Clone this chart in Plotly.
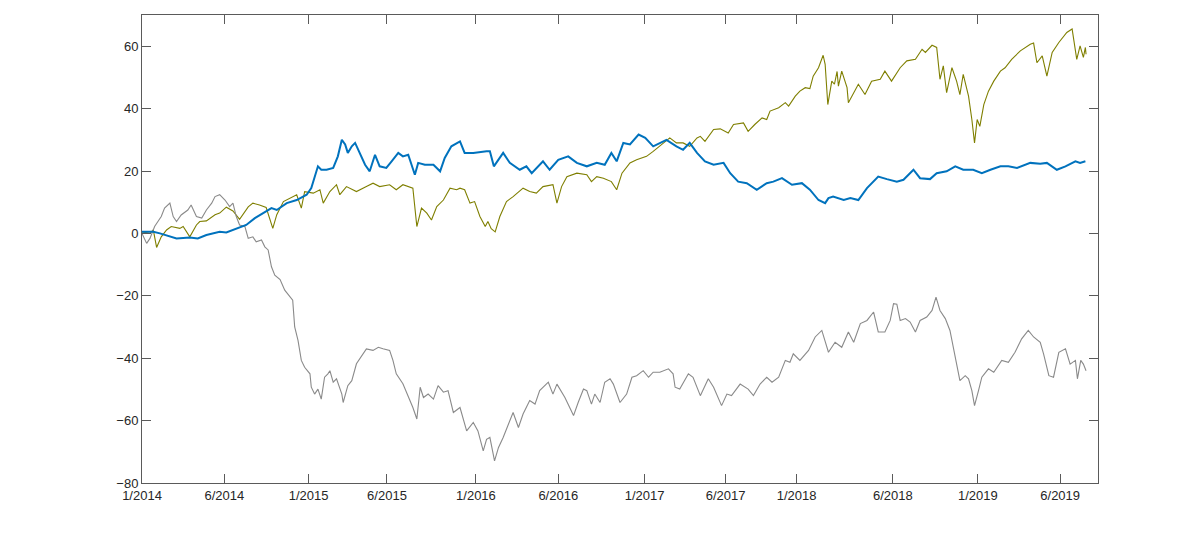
import plotly.graph_objects as go

# x = trading-day index since 1/2014
blue_x = [0, 17, 27, 42, 52, 72, 84, 97, 117, 127, 142, 157, 170, 182, 195, 203, 218, 233, 248, 255,
          260, 265, 270, 278, 288, 295, 301, 306, 310, 316, 321, 328, 336, 343, 351, 358, 368, 376, 386, 393,
          401, 411, 416, 426, 439, 449, 456, 466, 479, 486, 499, 519, 524, 530, 539, 544, 554, 569, 579, 587,
          604, 614, 627, 642, 655, 670, 685, 697, 707, 715, 725, 735, 748, 758, 770, 780, 790, 805, 815, 825,
          836, 848, 861, 876, 886, 898, 911, 926, 941, 951, 964, 979, 994, 1006, 1019, 1029, 1034, 1041, 1057, 1067,
          1079, 1092, 1109, 1122, 1137, 1147, 1162, 1172, 1187, 1197, 1212, 1225, 1237, 1252, 1265, 1278, 1293, 1305, 1318, 1338,
          1353, 1363, 1378, 1391, 1406, 1413, 1421]
blue_y = [0.5, 0.5, 0, -1, -1.6, -1.3, -1.6, -0.5, 0.5, 0.3, 1.6, 2.7, 4.9, 6.5, 8.1, 7.5, 9.7, 10.7, 12.4, 14.5,
          17.7, 21.5, 20.4, 20.4, 21, 24.7, 30, 28.5, 25.8, 27.9, 29, 25.8, 22, 19.9, 25.2, 21.5, 21, 23.1, 25.8, 24.7,
          25.2, 18.8, 22.6, 22, 22, 19.9, 24.2, 27.9, 29.5, 25.8, 25.8, 26.3, 26.3, 21.5, 24.2, 25.8, 22.6, 20.4, 21.5, 19.3,
          23.1, 20.4, 23.6, 24.7, 22.6, 21.5, 22.6, 22, 25.8, 23.1, 29, 28.5, 31.7, 30.6, 27.9, 29, 30, 27.9, 26.8, 29,
          25.8, 23.1, 22, 22.6, 19.3, 16.6, 16.1, 14, 16.1, 16.6, 17.7, 15.6, 16.1, 14, 10.7, 9.7, 11.3, 11.8, 10.7, 11.3,
          10.7, 14.5, 18.2, 17.4, 16.6, 17.2, 20.4, 17.7, 17.4, 19.3, 19.9, 21.5, 20.4, 20.4, 19.3, 20.4, 21.5, 21.5, 21, 22.6,
          22.3, 22.6, 20.4, 21.5, 23.1, 22.6, 23.1]

olive_x = [0, 12, 17, 22, 29, 37, 44, 57, 62, 72, 82, 87, 97, 110, 117, 127, 137, 147, 160, 167,
           177, 187, 197, 203, 213, 223, 233, 240, 245, 258, 268, 273, 283, 293, 298, 308, 323, 338, 348, 358,
           373, 383, 393, 408, 411, 414, 421, 429, 436, 444, 454, 464, 474, 479, 486, 494, 501, 509, 517, 521,
           526, 532, 539, 549, 559, 574, 584, 594, 604, 619, 625, 632, 640, 655, 670, 677, 685, 695, 707, 715,
           723, 735, 745, 760, 770, 780, 795, 805, 815, 825, 836, 841, 848, 861, 871, 883, 891, 906, 913, 923,
           934, 941, 946, 959, 969, 974, 984, 991, 999, 1006, 1011, 1019, 1026, 1029, 1033, 1039, 1043, 1047, 1049, 1054,
           1062, 1064, 1072, 1079, 1089, 1099, 1112, 1119, 1129,
           1142, 1152, 1165, 1175, 1180, 1190, 1197, 1202, 1207, 1212, 1220, 1227, 1232, 1237, 1245, 1250, 1254, 1258, 1262, 1268,
           1275, 1283, 1293, 1300, 1310, 1323, 1338, 1343, 1348, 1356, 1363, 1371, 1381, 1393, 1401, 1408, 1413, 1418, 1421, 1422]
olive_y = [0.5, 0, 1.1, -4.5, -1.1, 1.1, 2.2, 1.6, 2.2, -1.1, 2.7, 3.8, 4, 6, 6.5, 8.4, 7.2, 4.5, 8.5, 9.7,
           9.1, 8.3, 1.6, 6, 10.2, 11.3, 12.4, 8.1, 13.4, 12.9, 14, 9.7, 13.4, 15.6, 12.4, 15, 13.4, 15, 16.1, 15,
           15.6, 14, 15.6, 14.5, 8.6, 2.2, 8.1, 6.5, 4.3, 8.6, 10.7, 14.5, 14, 14.5, 14, 9.7, 10.2, 5.4, 2.2, 3.8,
           1.5, 0.5, 5.4, 10.2, 11.8, 14.5, 13.4, 12.9, 15, 15.6, 9.7, 15, 18.2, 19.3, 18.8, 16.6, 18.2, 17.7, 16.6, 14,
           19.3, 22.6, 23.6, 24.7, 26.3, 27.9, 30.6, 29, 29, 27.9, 30.6, 31.1, 29.5, 33.3, 33.5, 32.2, 34.9, 35.4, 32.7, 34.9,
           37, 36.5, 39.2, 40.3, 41.9, 40.8, 44, 45.6, 46.7, 46.4, 50.4, 53.1, 57.1, 54.2, 41.3, 48.8, 47.8, 51.9, 47.2, 52,
           46.7, 41.9, 45.1, 47.8, 44.5, 48.8, 49.4, 52, 48.8,
           53.1, 55.3, 55.8, 59, 58, 60.3, 59.6, 49.4, 53.7, 45.1, 53.1, 48.8, 44.5, 51, 44, 36.5, 29, 36.5, 34.3, 41.3,
           45.6, 48.8, 52, 53.1, 55.8, 58.5, 60.6, 61, 54.7, 56.9, 50.4, 58, 61.2, 64.4, 65.5, 55.8, 60.1, 56.4, 59.6, 57.4]

gray_x = [0, 7, 12, 19, 24, 29, 34, 42, 47, 52, 59, 69, 74, 82, 90, 97, 105, 110, 117, 125,
          132, 137, 142, 147, 155, 160, 167, 172, 180, 185, 190, 195, 200, 208, 215, 223, 227, 230, 235, 240,
          245, 253, 255, 260, 265, 270, 275, 280, 283, 288, 293, 301, 303, 310, 316, 323, 331, 338, 348, 356,
          363, 373, 378, 383, 393, 401, 408, 414, 419, 424, 431, 439, 446, 454, 461, 469, 479, 489, 499, 506,
          514, 519, 524, 531, 537, 544, 554, 559, 567, 574, 584, 592, 599, 612, 619, 625, 637, 650, 657, 665,
          670, 677, 682, 690, 697, 705, 710, 720, 730, 738, 745, 755, 763, 770, 780, 793, 800, 803, 810, 823,
          830, 841, 853, 861, 873, 881, 888, 901, 913, 921, 931, 941, 949, 959, 969, 976, 981, 991, 1004, 1014,
          1024, 1034, 1044, 1054, 1064, 1072, 1082, 1092, 1102, 1109, 1119, 1127, 1132, 1137, 1142, 1150, 1157, 1165, 1172, 1182,
          1190, 1196, 1202, 1210, 1217, 1222, 1227, 1232, 1240, 1245, 1250, 1254, 1260, 1265, 1275, 1283, 1295, 1305, 1315, 1325,
          1335, 1343, 1353, 1358, 1366, 1373, 1381, 1391, 1398, 1406, 1409, 1414, 1418, 1422]
gray_y = [0, -3.2, -1.6, 2.2, 3.8, 5.4, 8.1, 9.7, 5.4, 3.8, 5.9, 7.5, 9.1, 5.4, 4.9, 7.5, 9.7, 11.8, 12.4, 10.7,
          8.6, 9.7, 5.4, 2.7, 2.2, -1.6, -1.1, -2.7, -2.1, -4.3, -5.3, -10.7, -13.4, -14.8, -18.2, -20.6, -21.4, -30, -34.3, -40.7,
          -42.9, -45, -49.3, -51.5, -49.9, -53.1, -46.1, -45, -44, -47.7, -46.6, -51.5, -54.2, -48.8, -47.2, -41.8, -39.1, -37, -37.5, -36.5,
          -37, -37.5, -40.7, -45, -48.2, -52, -55.8, -59.5, -49.3, -52.6, -51.5, -53.1, -48.8, -50.9, -50.4, -57.4, -55.8, -63.3, -60.6, -63.3,
          -69.7, -66, -65.4, -72.9, -68.6, -65.4, -60.1, -57.4, -62.2, -57.9, -53.6, -54.7, -50.4, -47.7, -51.5, -48.3, -52.6, -58.4, -54.2, -49.9,
          -50.4, -54.7, -51.5, -54.2, -47.7, -46.6, -48.3, -54.2, -51.5, -46.1, -45.6, -44, -46.1, -44.5, -44.5, -43.4, -45, -49.3, -49.9, -45,
          -46.1, -52, -46.6, -49.3, -55.2, -51.5, -52, -48.3, -49.9, -52, -48.3, -46.1, -47.7, -46.1, -40.7, -41.3, -38.6, -40.7, -37.5, -33.2,
          -31.1, -38.1, -34.9, -36.5, -31.6, -34.9, -28.9, -27.9, -25.2, -31.6, -31.6, -27.9, -22.5, -22.7, -27.9, -27.3, -28.4, -31.6, -27.9, -26.8,
          -24.7, -20.4, -24.7, -27.3, -31.1, -36.5, -41.3, -47.2, -45.6, -46.6, -50.4, -55.2, -50.4, -46.1, -43.4, -44.5, -40.7, -41.3, -38.1, -33.8,
          -31.1, -33.2, -34.9, -38.6, -45.6, -46.1, -38.1, -37, -41.9, -40.7, -46.6, -40.7, -41.9, -44]

tick_vals = [0, 124, 251, 369, 503, 627, 757, 879, 986, 1131, 1259, 1383]
tick_text = ["1/2014", "6/2014", "1/2015", "6/2015", "1/2016", "6/2016",
             "1/2017", "6/2017", "1/2018", "6/2018", "1/2019", "6/2019"]
y_ticks = [-80, -60, -40, -20, 0, 20, 40, 60]

fig = go.Figure()
fig.add_trace(go.Scatter(x=olive_x, y=olive_y, mode="lines",
                         line=dict(color="#7f7f00", width=1.1)))
fig.add_trace(go.Scatter(x=gray_x, y=gray_y, mode="lines",
                         line=dict(color="#8a8a8a", width=1.1)))
fig.add_trace(go.Scatter(x=blue_x, y=blue_y, mode="lines",
                         line=dict(color="#0072BD", width=2)))

axis_common = dict(showgrid=False, zeroline=False, showline=True, linecolor="#5a5a5a",
                   linewidth=1, mirror="ticks", ticks="inside", ticklen=9, tickwidth=1,
                   tickcolor="#5a5a5a",
                   tickfont=dict(family="Liberation Sans, Arial, sans-serif", size=13, color="#262626"))

fig.update_layout(
    width=1196, height=537,
    margin=dict(l=134, r=106, t=7, b=62),
    paper_bgcolor="white", plot_bgcolor="white",
    showlegend=False,
    xaxis=dict(range=[0, 1440], tickvals=tick_vals, ticktext=tick_text, **axis_common),
    yaxis=dict(range=[-80, 70], tickvals=y_ticks, **axis_common),
)

fig.write_html("out.html")
